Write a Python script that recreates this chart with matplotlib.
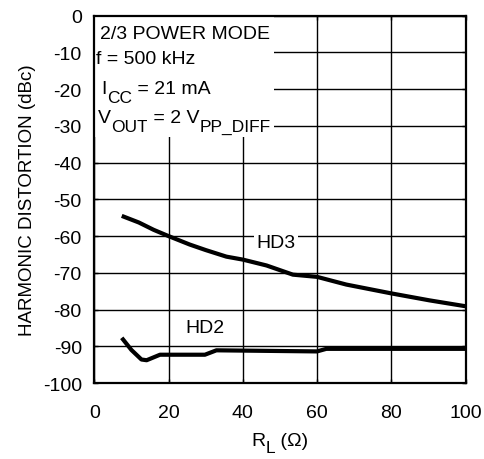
import matplotlib
matplotlib.use("Agg")
import matplotlib.pyplot as plt
from matplotlib.patches import Rectangle

plt.rcParams['font.family'] = ['Liberation Sans', 'DejaVu Sans']
plt.rcParams['axes.unicode_minus'] = False

# Data
hd3_r = [7.4, 12, 16, 20, 25.7, 30, 35.6, 40, 46.4, 53.5, 60, 67.9, 80, 90.3, 100]
hd3_db = [-54.5, -56.3, -58.3, -60.0, -62.3, -63.8, -65.6, -66.4, -68.0, -70.5, -71.1, -73.2, -75.6, -77.5, -79.1]
hd2_r = [7.4, 10, 12.7, 14.1, 17.7, 29.8, 32.9, 60, 62.5, 100]
hd2_db = [-87.7, -91.0, -93.6, -93.8, -92.3, -92.3, -91.1, -91.4, -90.7, -90.7]
x_ticks = [0, 20, 40, 60, 80, 100]
y_ticks = [0, -10, -20, -30, -40, -50, -60, -70, -80, -90, -100]

fig = plt.figure(figsize=(4.85, 4.60), dpi=100)
ax = fig.add_axes([0.1944, 0.1652, 0.7654, 0.7985])
ax.set_xlim(0, 100)
ax.set_ylim(-100, 0)
ax.set_xticks(x_ticks)
ax.set_yticks(y_ticks)
ax.grid(True, color='black', linewidth=1.0, zorder=0)
ax.set_axisbelow(True)
ax.tick_params(direction='in', length=3, width=1, top=True, right=True,
               labelsize=14, colors='black')
ax.tick_params(axis='x', pad=15)
ax.tick_params(axis='y', pad=9)
for s in ax.spines.values():
    s.set_linewidth(1.6)
    s.set_zorder(5)

# white box hiding the grid behind the conditions text
ax.add_patch(Rectangle((0, -33), 48.5, 33, facecolor='white', edgecolor='none', zorder=1))

ax.plot(hd3_r, hd3_db, color='black', linewidth=3, solid_capstyle='butt', zorder=3)
ax.plot(hd2_r, hd2_db, color='black', linewidth=3, solid_capstyle='butt', zorder=3)

fs = 14
sub_fs = 12.5
SUB_DY = -5.5


def rich_text(x, y, parts, bbox=None):
    """parts: list of (string, is_subscript). Chained so subscripts sit low and large."""
    prev = None
    level = 0.0
    for s, is_sub in parts:
        new_level = SUB_DY if is_sub else 0.0
        size = sub_fs if is_sub else fs
        if prev is None:
            t = ax.text(x, y, s, fontsize=size, va='bottom', ha='left', zorder=4)
        else:
            t = ax.annotate(s, xy=(1, 0), xycoords=prev, xytext=(0, new_level - level),
                            textcoords='offset points', fontsize=size,
                            va='bottom', ha='left', zorder=4, annotation_clip=False)
        if bbox is not None:
            t.set_bbox(bbox)
        prev = t
        level = new_level


rich_text(1.5, -7.2, [('2/3 POWER MODE', False)])
rich_text(0.5, -14.0, [('f = 500 kHz', False)])
rich_text(2.0, -22.1, [('I', False), ('CC', True), (' = 21 mA', False)])
rich_text(1.0, -30.0, [('V', False), ('OUT', True), (' = 2 V', False), ('PP_DIFF', True)],
          bbox=dict(facecolor='white', edgecolor='none', pad=0.3))

ax.text(49, -63, 'HD3', fontsize=fs, va='baseline', ha='center', zorder=4,
        bbox=dict(facecolor='white', edgecolor='none', pad=1.5))
ax.text(29.9, -86.1, 'HD2', fontsize=fs, va='baseline', ha='center', zorder=4,
        bbox=dict(facecolor='white', edgecolor='none', pad=4.5))

# x label with low, large subscript
xl1 = fig.text(0.0, 0.0, 'R', fontsize=fs, va='bottom', ha='left')
xl2 = fig.text(0.0, 0.0, 'L', fontsize=sub_fs, va='bottom', ha='left')
xl3 = fig.text(0.0, 0.0, ' (\u03a9)', fontsize=fs, va='bottom', ha='left')
fig.canvas.draw()
r = fig.canvas.get_renderer()
w1 = xl1.get_window_extent(r).width
w2 = xl2.get_window_extent(r).width
w3 = xl3.get_window_extent(r).width
tot = w1 + w2 + w3
W, H = fig.bbox.width, fig.bbox.height
x0 = 0.5772 * W - tot / 2
base_y = H - 447 - 3
xl1.set_position((x0 / W, base_y / H))
xl2.set_position(((x0 + w1) / W, (base_y - 6) / H))
xl3.set_position(((x0 + w1 + w2) / W, base_y / H))

ax.set_ylabel('HARMONIC DISTORTION (dBc)', fontsize=13.5, labelpad=5)

fig.savefig('out.png', dpi=100)
